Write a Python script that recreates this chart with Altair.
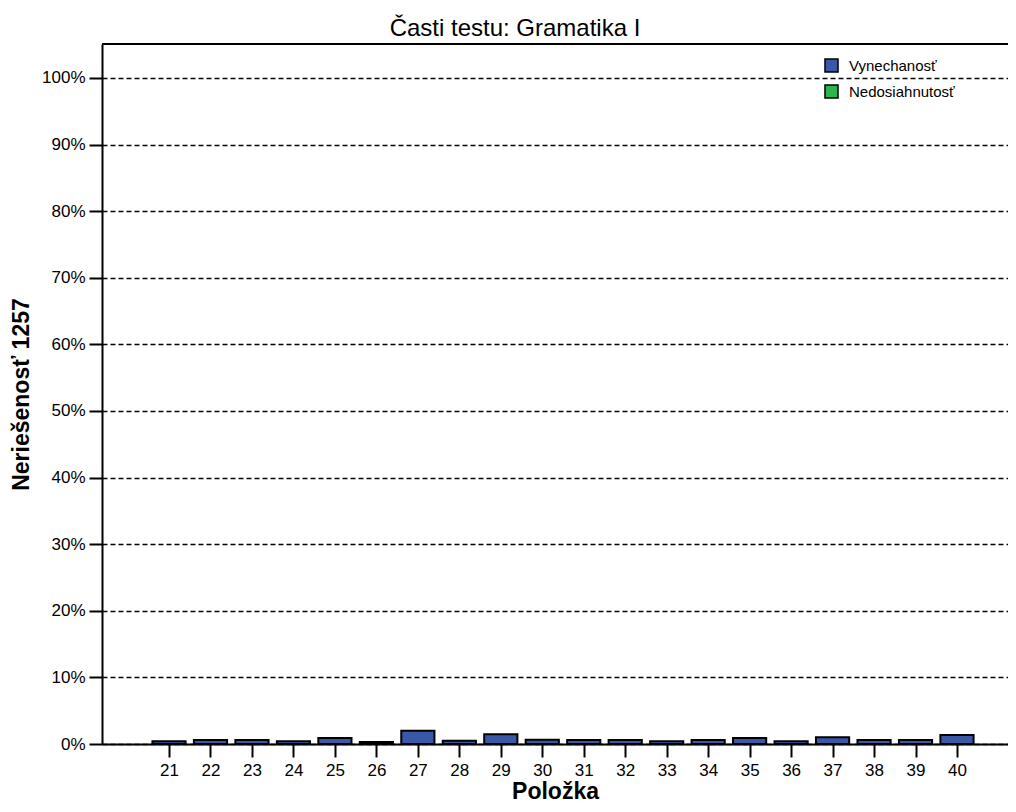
import altair as alt
import pandas as pd

items = list(range(21, 41))
vynechanost = [0.004, 0.006, 0.006, 0.004, 0.009, 0.003, 0.020, 0.005, 0.0145, 0.0065,
               0.006, 0.006, 0.004, 0.006, 0.009, 0.004, 0.010, 0.006, 0.006, 0.0135]
series_names = ["Vynechanosť", "Nedosiahnutosť"]
series_colors = ["#3A58A8", "#2DB64B"]
y_ticks = [i / 10 for i in range(11)]

df = pd.DataFrame({"item": items, "value": vynechanost, "series": "Vynechanosť"})

FONT = "Liberation Sans"
W, H = 906, 700

bars = alt.Chart(df).transform_calculate(
    x0="datum.item - 0.4", x1="datum.item + 0.4"
).mark_rect(stroke="black", strokeWidth=2).encode(
    x=alt.X("x0:Q",
            scale=alt.Scale(domain=[19.384, 41.23], nice=False, zero=False),
            axis=alt.Axis(values=items, format="d", title="Položka",
                          grid=False, tickSize=13, tickWidth=2, tickColor="black",
                          domainWidth=2, domainColor="black",
                          labelFontSize=17, labelPadding=5, labelColor="black",
                          titleFontSize=23, titleFontWeight="bold", titleColor="black",
                          titleBaseline="alphabetic", titleY=54)),
    x2="x1:Q",
    y=alt.Y("value:Q",
            scale=alt.Scale(domain=[0, 1.051], nice=False),
            axis=alt.Axis(values=y_ticks, format=".0%", title="Neriešenosť 1257",
                          grid=True, gridColor="black", gridDash=[5, 3], gridWidth=1.5,
                          tickSize=13, tickWidth=2, tickColor="black",
                          domainWidth=2, domainColor="black",
                          labelFontSize=17, labelPadding=4, labelColor="black",
                          titleFontSize=23, titleFontWeight="bold", titleColor="black",
                          titlePadding=8)),
    fill=alt.Fill("series:N",
                  scale=alt.Scale(domain=series_names, range=series_colors),
                  legend=alt.Legend(title=None, orient="none", legendX=722, legendY=14,
                                    symbolType="square", symbolSize=170,
                                    symbolStrokeColor="black", symbolStrokeWidth=1.5,
                                    labelFontSize=15, labelColor="black",
                                    rowPadding=5, labelOffset=10)),
)

top_line = alt.Chart(df).mark_rule(color="black", strokeWidth=2).encode(
    x=alt.value(0), x2=alt.value(W), y=alt.value(0)
)

chart = alt.layer(bars, top_line).properties(
    width=W, height=H,
    autosize=alt.AutoSizeParams(type="none"),
    padding={"left": 94, "top": 36, "right": 0, "bottom": 60},
    title=alt.TitleParams("Časti testu: Gramatika I", fontSize=24, font=FONT,
                          fontWeight="normal", anchor="middle", dx=-40, offset=2,
                          color="black"),
).configure(font=FONT).configure_view(stroke=None).configure_axis(
    labelFont=FONT, titleFont=FONT
).configure_legend(labelFont=FONT)

chart.save("out.html", embed_options={"renderer": "svg", "actions": False})
